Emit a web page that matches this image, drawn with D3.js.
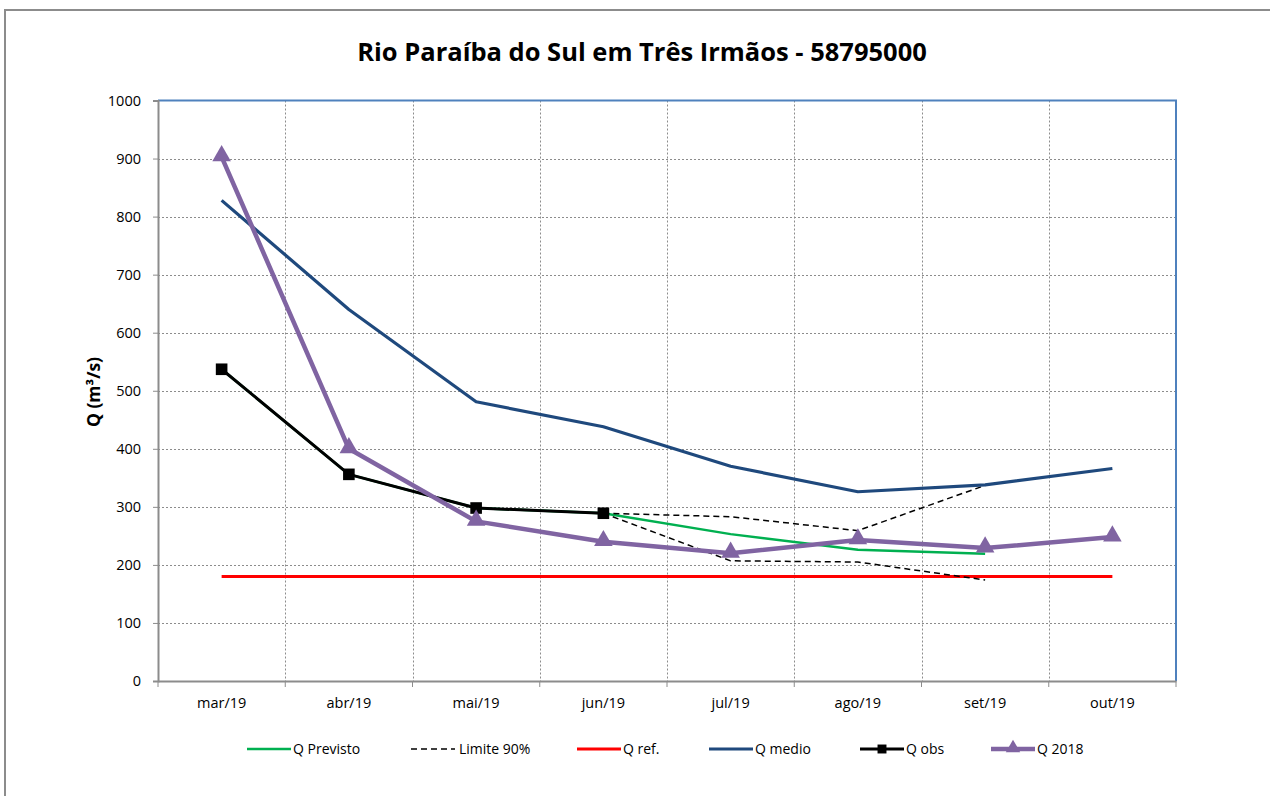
<!DOCTYPE html>
<html><head><meta charset="utf-8">
<script src="https://cdn.jsdelivr.net/npm/d3@7"></script>
<style>
html,body{margin:0;padding:0;background:#fff;}
svg text{font-family:"Open Sans",sans-serif;}
</style></head>
<body><svg id="c" width="1270" height="796"></svg>
<script>
const months = ["mar/19","abr/19","mai/19","jun/19","jul/19","ago/19","set/19","out/19"];
const yTicks = [0,100,200,300,400,500,600,700,800,900,1000];
const qPrevisto = [537,356,298,289,253,226,219,null];
const limiteSup = [null,null,null,289,283,259,337,null];
const limiteInf = [null,null,null,289,207,205,174,null];
const qRef = [180,180,180,180,180,180,180,180];
const qMedio = [828,640,481,438,370,326,338,366];
const qObs = [537,356,298,289,null,null,null,null];
const q2018 = [903,400,275,240,220,243,229,248];
const seriesNames = ["Q Previsto","Limite 90%","Q ref.","Q medio","Q obs","Q 2018"];

const svg = d3.select("#c");
const L=158,R=1176,T=100.5,B=681;
const x = d3.scaleBand().domain(months).range([L,R]).padding(0);
const cx = d=>x(d)+x.bandwidth()/2;
const y = d3.scaleLinear().domain([0,1000]).range([B,T]);

// outer frame
svg.append("path").attr("d",`M5,796 V10 H1270`).attr("fill","none").attr("stroke","#8c8c8c").attr("stroke-width",2);

// title
svg.append("text").attr("x",642).attr("y",61).attr("text-anchor","middle")
  .attr("font-weight","bold").attr("font-size",25.5).attr("fill","#000")
  .text("Rio Paraíba do Sul em Três Irmãos - 58795000");

// grid
const g = svg.append("g");
g.selectAll(".hg").data(yTicks.filter(v=>v>0&&v<1000)).enter().append("line")
  .attr("x1",L).attr("x2",R).attr("y1",d=>Math.round(y(d))+0.5).attr("y2",d=>Math.round(y(d))+0.5)
  .attr("stroke","#8c8c8c").attr("stroke-width",1).attr("stroke-dasharray","2,2");
g.selectAll(".vg").data(months.slice(1)).enter().append("line")
  .attr("x1",d=>Math.round(x(d))+0.5).attr("x2",d=>Math.round(x(d))+0.5).attr("y1",T).attr("y2",B)
  .attr("stroke","#8c8c8c").attr("stroke-width",1).attr("stroke-dasharray","2,2");

// plot border top/right
svg.append("path").attr("d",`M${L},${T} H${R} V${B}`).attr("fill","none").attr("stroke","#4f81bd").attr("stroke-width",2);

// axes
const ya = svg.append("g").attr("transform",`translate(${L},0)`)
  .call(d3.axisLeft(y).tickValues(yTicks).tickSize(5).tickPadding(12).tickFormat(d3.format("d")));
ya.select(".domain").attr("stroke","#8c8c8c").attr("stroke-width",2);
ya.selectAll(".tick line").attr("stroke","#8c8c8c");
ya.selectAll("text").attr("font-size",14.5).attr("fill","#000");

const xa = svg.append("g").attr("transform",`translate(0,${B})`)
  .call(d3.axisBottom(x).tickSize(0).tickPadding(17));
xa.select(".domain").attr("stroke","#8c8c8c").attr("stroke-width",2);
xa.selectAll("text").attr("font-size",14.5).attr("fill","#000");
xa.selectAll(".xt").data(months.concat(["end"])).enter().append("line")
  .attr("x1",(d,i)=>i<months.length?x(d):R).attr("x2",(d,i)=>i<months.length?x(d):R)
  .attr("y1",0).attr("y2",6).attr("stroke","#8c8c8c").attr("stroke-width",1);

// y label
svg.append("text").attr("transform","translate(100,392) rotate(-90)").attr("text-anchor","middle")
  .attr("font-weight","bold").attr("font-size",17.5).text("Q (m³/s)");

const line = d3.line().defined(d=>d.v!=null).x(d=>cx(d.m)).y(d=>y(d.v));
const pts = arr=>months.map((m,i)=>({m,v:arr[i]}));
function draw(arr,color,w,dash){
  svg.append("path").datum(pts(arr)).attr("d",line).attr("fill","none")
    .attr("stroke",color).attr("stroke-width",w).attr("stroke-dasharray",dash||null)
    .attr("stroke-linejoin","round");
}
draw(qRef,"#ff0000",3);
draw(qPrevisto,"#00b050",2.5);
draw(limiteSup,"#000",1.5,"6,4");
draw(limiteInf,"#000",1.5,"6,4");
draw(qMedio,"#1f497d",3.2);
draw(qObs,"#000",3);
draw(q2018,"#8064a2",4.5);

const sq = d3.symbol().type(d3.symbolSquare).size(135);
const tri = d3.symbol().type(d3.symbolTriangle).size(150);
svg.selectAll(".sq").data(pts(qObs).filter(d=>d.v!=null)).enter().append("path")
  .attr("d",sq).attr("transform",d=>`translate(${cx(d.m)},${y(d.v)})`).attr("fill","#000");
svg.selectAll(".tri").data(pts(q2018)).enter().append("path")
  .attr("d",tri).attr("transform",d=>`translate(${cx(d.m)},${y(d.v)-1})`).attr("fill","#8064a2");

// legend
const legStyle = [
  {c:"#00b050",w:2.5,x:247},
  {c:"#000",w:1.5,dash:"6,4",x:411},
  {c:"#ff0000",w:3,x:577},
  {c:"#1f497d",w:3,x:709},
  {c:"#000",w:3,x:860,m:"sq"},
  {c:"#8064a2",w:4.5,x:991,m:"tri"}
];
const lg = svg.append("g");
legStyle.forEach((d,i)=>{
  const ly=749;
  lg.append("line").attr("x1",d.x).attr("x2",d.x+44).attr("y1",ly).attr("y2",ly)
    .attr("stroke",d.c).attr("stroke-width",d.w).attr("stroke-dasharray",d.dash||null);
  if(d.m==="sq") lg.append("path").attr("d",d3.symbol().type(d3.symbolSquare).size(80)).attr("transform",`translate(${d.x+22},${ly})`).attr("fill",d.c);
  if(d.m==="tri") lg.append("path").attr("d",d3.symbol().type(d3.symbolTriangle).size(90)).attr("transform",`translate(${d.x+22},${ly-1})`).attr("fill",d.c);
  lg.append("text").attr("x",d.dash?d.x+48:d.x+46).attr("y",ly+5).attr("font-size",14)
    .text(seriesNames[i]);
});
</script></body></html>
